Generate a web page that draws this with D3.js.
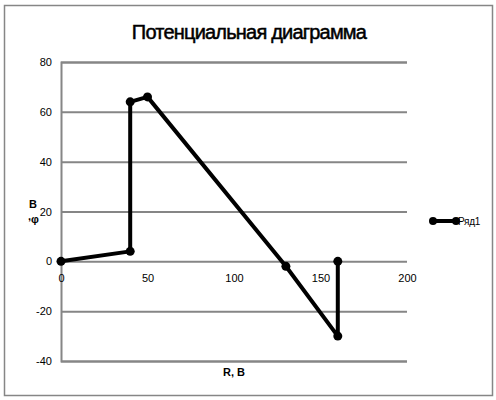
<!DOCTYPE html>
<html><head><meta charset="utf-8">
<script src="https://cdn.jsdelivr.net/npm/d3@7/dist/d3.min.js"></script>
<style>body{margin:0;background:#fff}svg{display:block}</style>
</head><body>
<script>
const title = "Потенциальная диаграмма";
const seriesName = "Ряд1";
const xValues = [0, 40, 40, 50, 130, 160, 160];
const yValues = [0, 4, 64, 66, -2, -30, 0];
const xTicks = [0, 50, 100, 150, 200];
const yTicks = [-40, -20, 0, 20, 40, 60, 80];
const xTitle = "R, В";

const W = 496, H = 400;
const svg = d3.select("body").append("svg").attr("width", W).attr("height", H);
svg.append("rect").attr("x", 4.5).attr("y", 5.5).attr("width", 488).attr("height", 390)
  .attr("fill", "#fff").attr("stroke", "#868686").attr("stroke-width", 1.5);

const x = d3.scaleLinear().domain([0, 200]).range([61, 407]);
const y = d3.scaleLinear().domain([-40, 80]).range([361, 62]);
const font = "'Liberation Sans', Arial, sans-serif";
const fmt = d => String(d);

// title
svg.append("text").attr("x", 249).attr("y", 39).attr("text-anchor", "middle")
  .attr("font-family", font).attr("font-size", 20).attr("letter-spacing", -0.8)
  .attr("fill", "#000").attr("stroke", "#000").attr("stroke-width", 0.5).text(title);

// gridlines
const yAxis = d3.axisLeft(y).tickValues(yTicks).tickFormat(fmt).tickSize(-(407 - 61)).tickPadding(9);
const gy = svg.append("g").attr("transform", "translate(61,0)").call(yAxis);
gy.select(".domain").attr("stroke", "#868686").attr("stroke-width", 2);
gy.selectAll(".tick line").attr("stroke", "#868686").attr("stroke-width", 2);
gy.selectAll(".tick text").attr("font-family", font).attr("font-size", 11).attr("fill", "#000");

const xAxis = d3.axisBottom(x).tickValues(xTicks).tickFormat(fmt).tickSize(0).tickPadding(13);
const gx = svg.append("g").attr("transform", `translate(0,${y(0)})`).call(xAxis);
gx.select(".domain").remove();
gx.selectAll(".tick text").attr("font-family", font).attr("font-size", 11).attr("fill", "#000");

// axis titles
svg.append("text").attr("x", 234).attr("y", 376).attr("text-anchor", "middle")
  .attr("font-family", font).attr("font-size", 11).attr("font-weight", "bold").text(xTitle);
svg.append("text").attr("x", 33).attr("y", 208).attr("text-anchor", "middle")
  .attr("font-family", font).attr("font-size", 11).attr("font-weight", "bold").text("В");
const yt = svg.append("text").attr("x", 28).attr("y", 223)
  .attr("font-family", font).attr("font-size", 11).attr("font-weight", "bold");
yt.append("tspan").attr("dy", -3).text(",");
yt.append("tspan").attr("dy", 3).text("φ");

// series
const pts = xValues.map((v, i) => [v, yValues[i]]);
const line = d3.line().x(d => x(d[0])).y(d => y(d[1]));
svg.append("path").datum(pts).attr("d", line).attr("fill", "none")
  .attr("stroke", "#000").attr("stroke-width", 4).attr("stroke-linejoin", "round");
svg.selectAll("circle.pt").data(pts).enter().append("circle").attr("class", "pt")
  .attr("cx", d => x(d[0])).attr("cy", d => y(d[1])).attr("r", 4.5).attr("fill", "#000");

// legend
const lg = svg.append("g");
lg.append("line").attr("x1", 433).attr("x2", 456).attr("y1", 221).attr("y2", 221)
  .attr("stroke", "#000").attr("stroke-width", 4);
lg.selectAll("circle").data([433, 456]).enter().append("circle")
  .attr("cx", d => d).attr("cy", 221).attr("r", 4).attr("fill", "#000");
lg.append("text").attr("x", 458).attr("y", 225).attr("font-family", font)
  .attr("font-size", 10).attr("letter-spacing", -0.3).text(seriesName);
</script>
</body></html>
